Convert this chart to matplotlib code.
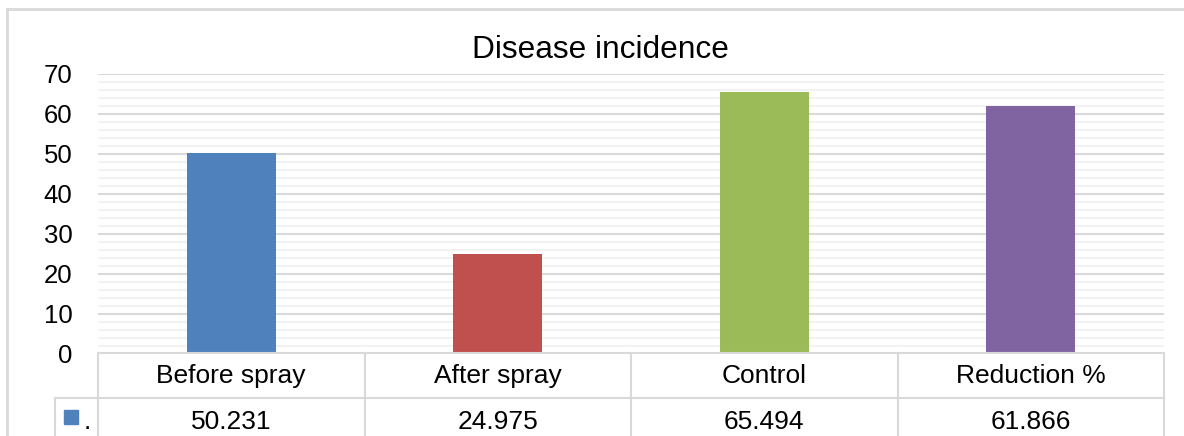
import matplotlib
matplotlib.use("Agg")
import matplotlib.pyplot as plt
from matplotlib.lines import Line2D
from matplotlib.patches import Rectangle
from matplotlib.transforms import blended_transform_factory
import numpy as np

plt.rcParams['font.family'] = ['Liberation Sans', 'DejaVu Sans']

categories = ["Before spray", "After spray", "Control", "Reduction %"]
values = [50.231, 24.975, 65.494, 61.866]
value_labels = ["50.231", "24.975", "65.494", "61.866"]
colors = ["#4F81BD", "#C0504D", "#9BBB59", "#8064A2"]
series_name = "."
title = "Disease incidence"

W, H = 1184, 436
fig = plt.figure(figsize=(W / 100, H / 100), dpi=100)

def fx(px):
    return px / W

def fy(py):
    return 1 - py / H

ax_left, ax_right, ax_top, ax_bottom = 98, 1164, 73.7, 353.5
ax = fig.add_axes([fx(ax_left), fy(ax_bottom), fx(ax_right - ax_left), (ax_bottom - ax_top) / H])

x = np.arange(len(categories))
ax.bar(x, values, width=0.335, color=colors, zorder=3)
ax.set_xlim(-0.5, len(categories) - 0.5)
ax.set_ylim(0, 70)
ax.set_yticks(np.arange(0, 71, 10))
ax.set_yticks(np.arange(0, 71, 2), minor=True)
ax.grid(which='major', axis='y', color='#d9d9d9', linewidth=1.5, zorder=0)
ax.grid(which='minor', axis='y', color='#f2f2f2', linewidth=1.5, zorder=0)
ax.set_axisbelow(True)
ax.set_xticks([])
ax.tick_params(axis='y', which='both', length=0, pad=18.5, labelsize=18.5)
for s in ax.spines.values():
    s.set_visible(False)

line_c = '#d9d9d9'
lw = 1.5
# table lines in figure pixel coordinates
def hline(x0, x1, py):
    fig.add_artist(Line2D([fx(x0), fx(x1)], [fy(py), fy(py)], color=line_c, lw=lw))

def vline(px, y0, y1):
    fig.add_artist(Line2D([fx(px), fx(px)], [fy(y0), fy(y1)], color=line_c, lw=lw))

row1_top, row2_top = 352.5, 398
hline(ax_left, ax_right, row1_top)
hline(55, ax_right, row2_top)
cw = (ax_right - ax_left) / len(categories)
for i in range(len(categories) + 1):
    vline(ax_left + i * cw, row1_top, H + 5)
vline(55, row2_top, H + 5)

trans = blended_transform_factory(ax.transData, fig.transFigure)
for i, (c, v) in enumerate(zip(categories, value_labels)):
    ax.text(i, fy(383.3), c, transform=trans, ha='center', va='baseline', fontsize=19, clip_on=False)
    ax.text(i, fy(429.3), v, transform=trans, ha='center', va='baseline', fontsize=19, clip_on=False)

# legend key
fig.add_artist(Rectangle((fx(64), fy(424)), fx(14), 14 / H, color=colors[0], transform=fig.transFigure))
fig.text(fx(84), fy(429.3), series_name, ha='left', va='baseline', fontsize=19)

# chart border
fig.add_artist(Line2D([fx(7), fx(7)], [fy(9), fy(H + 5)], color=line_c, lw=2))
fig.add_artist(Line2D([fx(7), fx(W + 5)], [fy(9), fy(9)], color=line_c, lw=2))

fig.text(fx(600), fy(58.3), title, ha='center', va='baseline', fontsize=22.8)

fig.savefig("out.png", dpi=100)
